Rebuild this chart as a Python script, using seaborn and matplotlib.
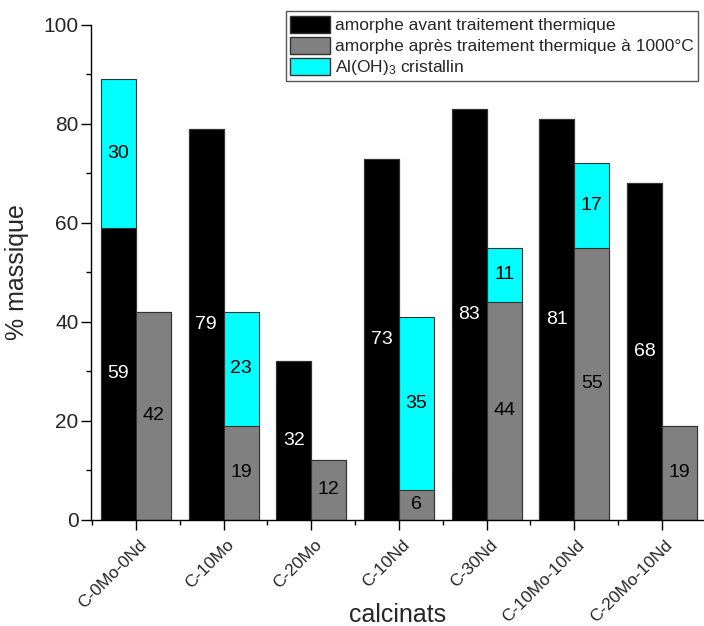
import matplotlib
matplotlib.use("Agg")
import numpy as np
import pandas as pd
import matplotlib.pyplot as plt
import matplotlib.transforms as mtransforms
import seaborn as sns
from matplotlib.patches import Patch
from matplotlib.ticker import MultipleLocator, FixedLocator

# Données
calcinats = ["C-0Mo-0Nd", "C-10Mo", "C-20Mo", "C-10Nd", "C-30Nd", "C-10Mo-10Nd", "C-20Mo-10Nd"]
avant = [59, 79, 32, 73, 83, 81, 68]
apres = [42, 19, 12, 6, 44, 55, 19]
cristallin = [30, 23, 0, 35, 11, 17, 0]
# barre sur laquelle Al(OH)3 est empilé
support = ["avant", "apres", "apres", "apres", "apres", "apres", "apres"]

series = ["avant", "apres"]
couleurs = ["black", "#808080"]
legendes = ["amorphe avant traitement thermique",
            "amorphe après traitement thermique à 1000°C",
            "Al(OH)$_3$ cristallin"]

sns.set_style("ticks")
plt.rcParams["font.family"] = ["Liberation Sans", "DejaVu Sans"]
plt.rcParams["mathtext.fontset"] = "custom"
plt.rcParams["mathtext.rm"] = "Liberation Sans"
plt.rcParams["mathtext.it"] = "Liberation Sans:italic"

# Tableau long : base + total (base + cristallin si empilé)
rows = []
for i, c in enumerate(calcinats):
    for s, vals in zip(series, [avant, apres]):
        top = vals[i] + (cristallin[i] if support[i] == s else 0)
        rows.append({"calcinat": c, "serie": s, "base": vals[i], "total": top})
df = pd.DataFrame(rows)

fig = plt.figure(figsize=(7.04, 6.26), dpi=100)
ax = fig.add_axes([91 / 704, 1 - 519.5 / 626, 1 - 91 / 704, 494.5 / 626])

bar_kw = dict(x="calcinat", hue="serie", order=calcinats, hue_order=series,
              width=0.8, saturation=1, errorbar=None, legend=False,
              edgecolor="#333333", linewidth=0.8, ax=ax)
# d'abord les totaux en cyan, puis les bases par-dessus
sns.barplot(data=df, y="total", palette=["cyan", "cyan"], **bar_kw)
sns.barplot(data=df, y="base", palette=couleurs, **bar_kw)

# étiquettes des valeurs
base_containers = ax.containers[2:]
for s, cont, vals in zip(series, base_containers, [avant, apres]):
    for i, bar in enumerate(cont):
        xc = bar.get_x() + bar.get_width() / 2
        ax.text(xc, vals[i] / 2, str(vals[i]), ha="center", va="center",
                fontsize=14, color="white" if s == "avant" else "black")
        if support[i] == s and cristallin[i] > 0:
            ax.text(xc, vals[i] + cristallin[i] / 2, str(cristallin[i]),
                    ha="center", va="center", fontsize=14, color="black")

ax.set_ylim(0, 100)
ax.set_xlim(-0.513, 6.48)
ax.yaxis.set_major_locator(MultipleLocator(20))
ax.yaxis.set_minor_locator(MultipleLocator(10))
ax.xaxis.set_minor_locator(FixedLocator(np.arange(-0.5, len(calcinats), 1)))
ax.tick_params(axis="both", which="major", length=7, width=1, direction="out", color="black")
ax.tick_params(axis="both", which="minor", length=3.5, width=1, direction="out", color="black")
ax.tick_params(axis="y", labelsize=15, pad=2)
ax.tick_params(axis="x", labelsize=12.5, pad=3)
for sp in ["left", "bottom"]:
    ax.spines[sp].set_linewidth(1)
    ax.spines[sp].set_color("black")
sns.despine(ax=ax, top=True, right=True)

ax.set_xticks(range(len(calcinats)))
ax.set_xticklabels(calcinats, rotation=45, ha="right", va="center", rotation_mode="anchor")
offset = mtransforms.ScaledTranslation(8 / 100, -9 / 100, fig.dpi_scale_trans)
for lab in ax.get_xticklabels():
    lab.set_transform(lab.get_transform() + offset)

ax.set_xlabel("calcinats", fontsize=18, va="center")
ax.xaxis.set_label_coords(0.5, (519.5 - 615) / 494.5)
ax.set_ylabel("% massique", fontsize=18, labelpad=10)

handles = [Patch(facecolor="black", edgecolor="#333333"),
           Patch(facecolor="#808080", edgecolor="#333333"),
           Patch(facecolor="cyan", edgecolor="#333333")]
leg = fig.legend(handles, legendes, loc="upper right", bbox_to_anchor=(0.992, 0.982),
                 fontsize=12.5, frameon=True, fancybox=False, framealpha=1,
                 edgecolor="#555555", handlelength=2.3, handleheight=1.15,
                 handletextpad=0.3, labelspacing=0.2, borderpad=0.25,
                 borderaxespad=0)
leg.get_frame().set_linewidth(1)

fig.savefig("out.png", dpi=100)
